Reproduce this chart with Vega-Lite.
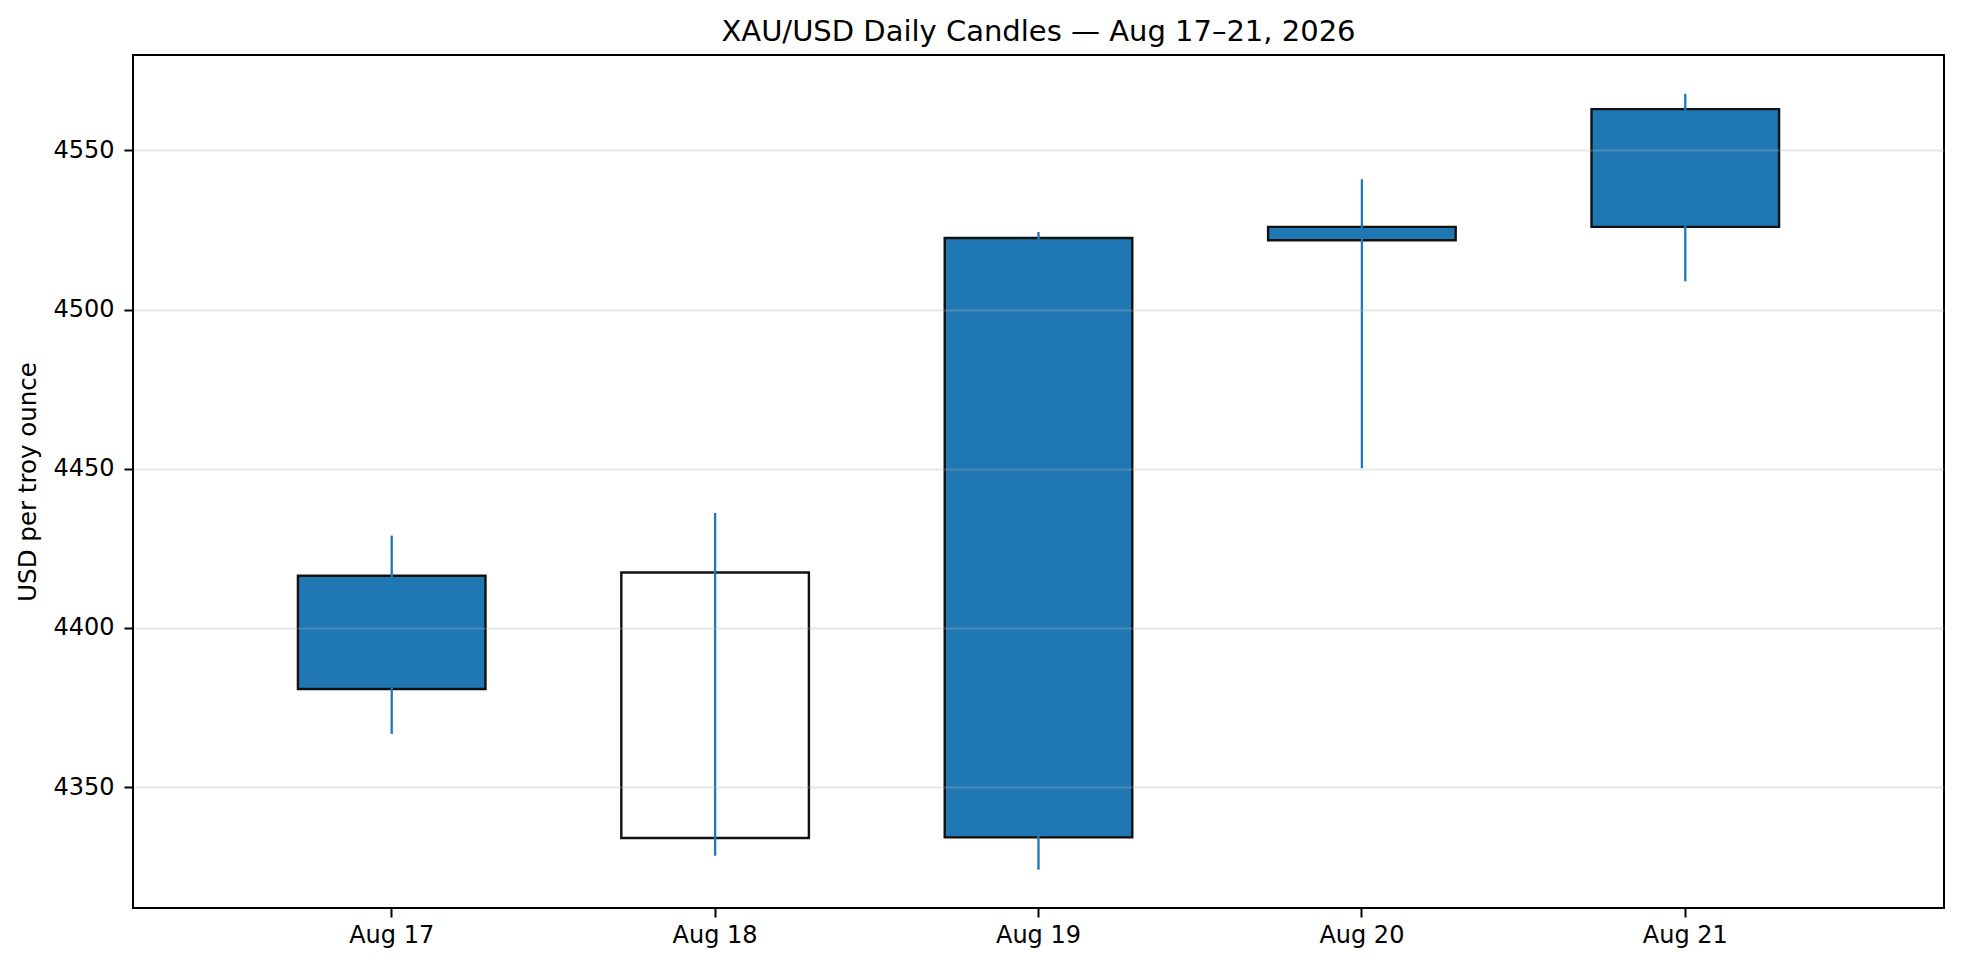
{
  "$schema": "https://vega.github.io/schema/vega-lite/v6.json",
  "autosize": "none",
  "width": 1811,
  "height": 853,
  "padding": {"left": 133, "top": 55, "right": 17, "bottom": 60},
  "background": "white",
  "title": {
    "text": "XAU/USD Daily Candles — Aug 17–21, 2026",
    "font": "DejaVu Sans",
    "fontSize": 29,
    "fontWeight": "normal",
    "color": "black",
    "anchor": "middle",
    "offset": 8
  },
  "config": {
    "font": "DejaVu Sans",
    "view": {"stroke": "black", "strokeWidth": 2},
    "axis": {
      "labelFont": "DejaVu Sans",
      "labelFontSize": 24,
      "labelColor": "black",
      "titleFont": "DejaVu Sans",
      "titleFontSize": 24.5,
      "titleFontWeight": "normal",
      "titleColor": "black",
      "tickColor": "black",
      "tickWidth": 2,
      "tickSize": 9,
      "domain": false
    }
  },
  "data": {
    "values": [
      {"date": "Aug 17", "open": 4380.8, "high": 4429.0, "low": 4366.7, "close": 4416.4},
      {"date": "Aug 18", "open": 4417.4, "high": 4436.1, "low": 4328.4, "close": 4334.0},
      {"date": "Aug 19", "open": 4334.2, "high": 4524.4, "low": 4324.0, "close": 4522.5},
      {"date": "Aug 20", "open": 4521.8, "high": 4541.0, "low": 4450.2, "close": 4526.0},
      {"date": "Aug 21", "open": 4526.0, "high": 4567.8, "low": 4508.9, "close": 4563.0}
    ]
  },
  "encoding": {
    "x": {
      "field": "date",
      "type": "ordinal",
      "sort": null,
      "scale": {"paddingInner": 0, "paddingOuter": 0.3},
      "axis": {"title": null, "labelAngle": 0, "labelPadding": 6, "grid": false}
    }
  },
  "layer": [
    {
      "mark": {"type": "bar", "width": {"band": 0.58}, "stroke": "#111111", "strokeWidth": 2.4},
      "encoding": {
        "y": {
          "field": "open",
          "type": "quantitative",
          "scale": {"domain": [4312, 4580], "zero": false, "nice": false},
          "axis": {
            "title": "USD per troy ounce",
            "values": [4350, 4400, 4450, 4500, 4550],
            "format": "d",
            "labelPadding": 10,
            "titlePadding": 12,
            "grid": true,
            "gridColor": "#b0b0b0",
            "gridOpacity": 0.3,
            "gridWidth": 2,
            "zindex": 1
          }
        },
        "y2": {"field": "close"},
        "fill": {
          "condition": {"test": "datum.close < datum.open", "value": "white"},
          "value": "#1f77b4"
        }
      }
    },
    {
      "mark": {"type": "rule", "color": "#1f77b4", "strokeWidth": 2.3},
      "encoding": {
        "y": {"field": "low", "type": "quantitative"},
        "y2": {"field": "high"}
      }
    }
  ]
}
